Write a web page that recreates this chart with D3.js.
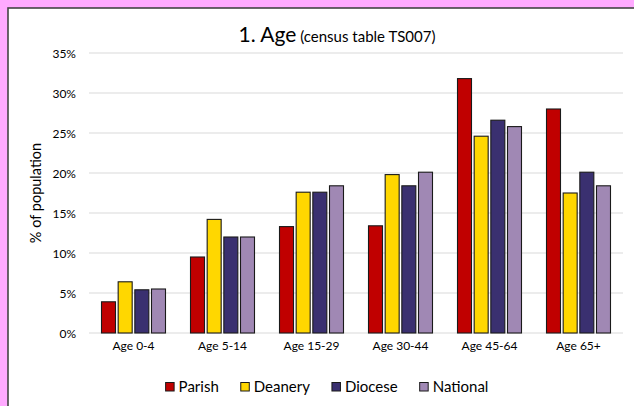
<!DOCTYPE html>
<html><head><meta charset="utf-8">
<script src="https://cdn.jsdelivr.net/npm/d3@7"></script>
<style>
html,body{margin:0;padding:0;background:#ffaaff;}
svg{display:block;}
text{font-family:"Lato","Open Sans",sans-serif;fill:#000;}
</style></head>
<body><svg id="c" width="634" height="406"></svg>
<script>
const categories = ["Age 0-4","Age 5-14","Age 15-29","Age 30-44","Age 45-64","Age 65+"];
const seriesNames = ["Parish","Deanery","Diocese","National"];
const parish   = [3.9, 9.5, 13.3, 13.4, 31.8, 28.0];
const deanery  = [6.4, 14.2, 17.6, 19.8, 24.6, 17.5];
const diocese  = [5.4, 12.0, 17.6, 18.4, 26.6, 20.1];
const national = [5.5, 12.0, 18.4, 20.1, 25.8, 18.4];
const yTicks = [0,5,10,15,20,25,30,35];
const colors = ["#c00000","#ffd700","#3a3070","#a088b4"];
const seriesValues = [parish, deanery, diocese, national];

const svg = d3.select("#c");
svg.append("rect").attr("x",8).attr("y",8).attr("width",640).attr("height",420)
  .attr("fill","#fff").attr("stroke","#444").attr("stroke-width",1.6);

const x0 = d3.scaleBand().domain(categories).range([89,623]).paddingInner(0).paddingOuter(0);
const y = d3.scaleLinear().domain([0,35]).range([333,53]);
const x1 = d3.scaleBand().domain(seriesNames).range([0,64]).paddingInner(0.16).paddingOuter(0);
const groupOffset = (x0.bandwidth()-64)/2;

svg.append("g").selectAll("line").data(yTicks).join("line")
  .attr("x1",89).attr("x2",623).attr("y1",d=>y(d)).attr("y2",d=>y(d))
  .attr("stroke","#d9d9d9").attr("stroke-width",1.2);

const yAxis = d3.axisLeft(y).tickValues(yTicks).tickFormat(d=>d+"%").tickSize(0).tickPadding(0);
const ya = svg.append("g").attr("transform","translate(76,0)").call(yAxis);
ya.select(".domain").remove();
ya.selectAll("text").style("font-family","Lato, sans-serif").style("font-size","12px").attr("fill","#000").attr("dy","0.35em");

const xAxis = d3.axisBottom(x0).tickSize(0).tickPadding(0);
const xa = svg.append("g").attr("transform","translate(0,341)").call(xAxis);
xa.select(".domain").remove();
xa.selectAll("text").style("font-family","Lato, sans-serif").style("font-size","12px").attr("fill","#000").attr("dy","0.71em");

const groups = svg.append("g").selectAll("g").data(categories).join("g")
  .attr("transform",d=>`translate(${x0(d)+groupOffset},0)`);
groups.selectAll("rect").data((c,i)=>seriesNames.map((s,j)=>({s,j,v:seriesValues[j][i]})))
  .join("rect")
  .attr("x",d=>x1(d.s)).attr("width",x1.bandwidth())
  .attr("y",d=>y(d.v)).attr("height",d=>y(0)-y(d.v))
  .attr("fill",d=>colors[d.j]).attr("stroke","#1a1a1a").attr("stroke-width",1.1);

const t = svg.append("text").attr("x",337).attr("y",42).attr("text-anchor","middle");
t.append("tspan").text("1. Age").style("font-size","21px");
t.append("tspan").text(" (census table TS007)").style("font-size","15px");

svg.append("text").attr("transform","translate(41,193) rotate(-90)").attr("text-anchor","middle")
  .style("font-size","14.5px").text("% of population");

const lg = svg.append("g");
const items = lg.selectAll("g").data(seriesNames).join("g");
items.append("rect").attr("width",8.5).attr("height",8.5).attr("y",382.5)
  .attr("fill",(d,i)=>colors[i]).attr("stroke","#1a1a1a").attr("stroke-width",1);
items.append("text").attr("x",13).attr("y",392).style("font-size","15px").text(d=>d);
const widths=[];
items.each(function(){ const w = 13 + d3.select(this).select("text").node().getComputedTextLength(); widths.push(w); });
const gap = 22;
const total = d3.sum(widths) + gap*(widths.length-1);
let start = 327 - total/2;
items.attr("transform",(d,i)=>{ const tx = start; start += widths[i]+gap; return `translate(${tx},0)`; });
</script></body></html>
